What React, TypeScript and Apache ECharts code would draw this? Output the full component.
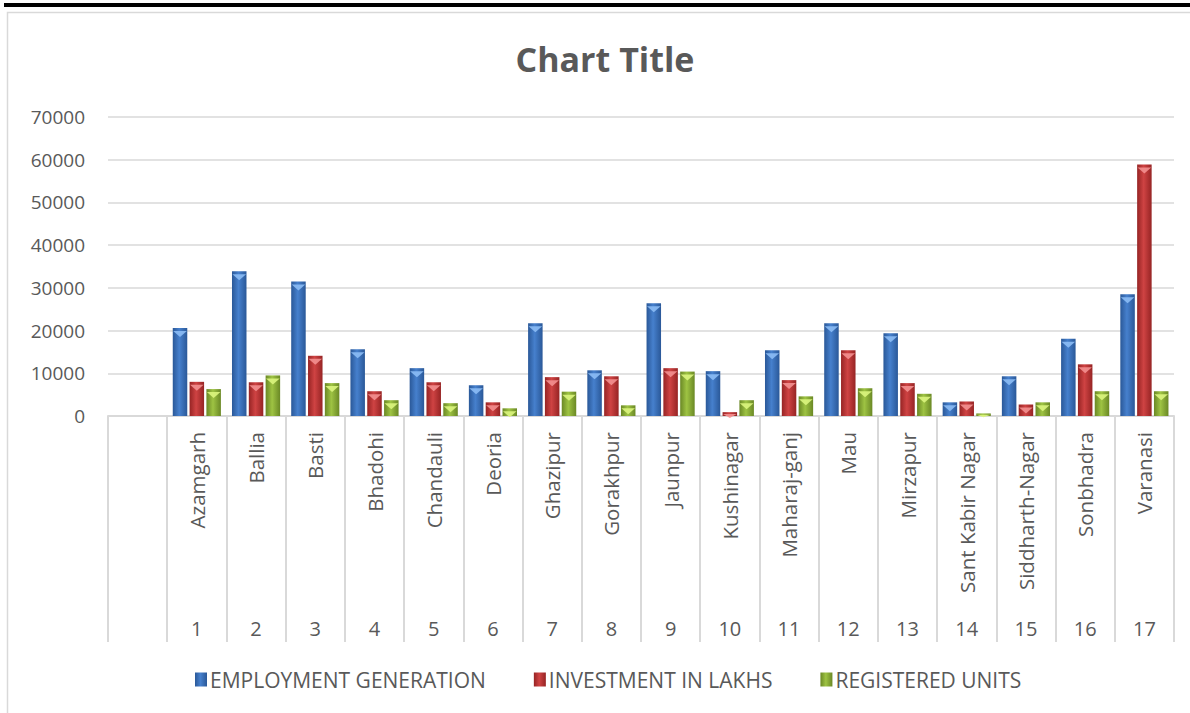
import React, { useEffect, useRef } from "react";
import * as echarts from "echarts";

const districts = [
  "Azamgarh", "Ballia", "Basti", "Bhadohi", "Chandauli", "Deoria", "Ghazipur",
  "Gorakhpur", "Jaunpur", "Kushinagar", "Maharaj-ganj", "Mau", "Mirzapur",
  "Sant Kabir Nagar", "Siddharth-Nagar", "Sonbhadra", "Varanasi",
];
const serialNumbers = [
  "1", "2", "3", "4", "5", "6", "7", "8", "9", "10", "11", "12", "13", "14", "15", "16", "17",
];
const employmentGeneration = [
  20600, 33900, 31500, 15600, 11200, 7200, 21700, 10700, 26400, 10500, 15400,
  21700, 19400, 3200, 9300, 18100, 28500,
];
const investmentInLakhs = [
  8000, 7900, 14100, 5800, 7900, 3200, 9100, 9300, 11200, 900, 8400, 15400,
  7700, 3400, 2700, 12100, 58900,
];
const registeredUnits = [
  6300, 9500, 7700, 3700, 3000, 1800, 5700, 2500, 10400, 3700, 4600, 6500,
  5200, 600, 3200, 5800, 5800,
];
const yTicks = { min: 0, max: 70000, interval: 10000 };

const seriesNames = ["EMPLOYMENT GENERATION", "INVESTMENT IN LAKHS", "REGISTERED UNITS"];
const palette = [
  { edge: "#2a5898", mid: "#4680cd", cap: "#8cbcf5" },
  { edge: "#962424", mid: "#cf4343", cap: "#f39090" },
  { edge: "#6a8825", mid: "#9ec343", cap: "#dcf57e" },
];

const FONT = "'Open Sans', 'DejaVu Sans', sans-serif";
const TEXT = "#595959";
const GRID = "#d9d9d9";

export default function App() {
  const ref = useRef<HTMLDivElement>(null);

  useEffect(() => {
    if (!ref.current) return;
    const chart = echarts.init(ref.current, undefined, { renderer: "svg" });
    const cats = ["", ...districts];
    const nums = ["", ...serialNumbers];
    const all = [employmentGeneration, investmentInLakhs, registeredUnits];
    const barW = 14.5;
    const gap = "16%";
    const plotH = 299;

    const bars = all.map((vals, i) => ({
      name: seriesNames[i],
      type: "bar",
      xAxisIndex: 0,
      barWidth: barW,
      barGap: gap,
      data: [null, ...vals],
      itemStyle: {
        color: new echarts.graphic.LinearGradient(0, 0, 1, 0, [
          { offset: 0, color: palette[i].edge },
          { offset: 0.45, color: palette[i].mid },
          { offset: 1, color: palette[i].edge },
        ]),
      },
      z: 2,
    }));
    const caps = all.map((vals, i) => ({
      name: "cap" + i,
      type: "pictorialBar",
      xAxisIndex: 0,
      barWidth: barW,
      barGap: gap,
      symbol: "triangle",
      symbolRotate: 180,
      symbolPosition: "end",
      data: [
        null,
        ...vals.map((v) => {
          const h = Math.min(6, (v / yTicks.max) * plotH);
          return { value: v, symbolSize: [barW - 1, h], symbolOffset: [0, h / 2] };
        }),
      ],
      itemStyle: { color: palette[i].cap, opacity: 0.9 },
      z: 3,
      silent: true,
    }));

    chart.setOption({
      animation: false,
      backgroundColor: "#ffffff",
      title: {
        text: "Chart Title",
        left: 600,
        textAlign: "center",
        top: 37,
        textStyle: { fontFamily: FONT, fontSize: 34, fontWeight: "bold", color: TEXT },
      },
      legend: {
        data: seriesNames,
        left: 190,
        top: 664,
        icon: "rect",
        itemWidth: 12,
        itemHeight: 14,
        itemGap: 48,
        textStyle: { fontFamily: FONT, fontSize: 21, color: TEXT, padding: [0, 0, 0, -2] },
      },
      grid: { left: 108, right: 16, top: 117, bottom: 297, containLabel: false },
      xAxis: [
        {
          type: "category",
          data: cats,
          boundaryGap: true,
          axisLine: { show: true, lineStyle: { color: GRID, width: 2 } },
          axisTick: {
            show: true,
            interval: 0,
            alignWithLabel: false,
            length: 226,
            lineStyle: { color: GRID, width: 2 },
          },
          axisLabel: {
            interval: 0,
            rotate: 90,
            margin: 16,
            fontFamily: FONT,
            fontSize: 20.5,
            color: TEXT,
          },
        },
        {
          type: "category",
          data: nums,
          position: "bottom",
          boundaryGap: true,
          axisLine: { show: false },
          axisTick: { show: false },
          axisLabel: {
            interval: 0,
            margin: 202,
            fontFamily: FONT,
            fontSize: 20,
            color: TEXT,
          },
        },
      ],
      yAxis: {
        type: "value",
        min: yTicks.min,
        max: yTicks.max,
        interval: yTicks.interval,
        axisLine: { show: false },
        axisTick: { show: false },
        axisLabel: {
          margin: 23,
          fontFamily: FONT,
          fontSize: 19,
          color: TEXT,
          formatter: (v: number) => String(v),
        },
        splitLine: { lineStyle: { color: GRID, width: 1.5 } },
      },
      graphic: [
        {
          type: "rect",
          shape: { x: 4, y: 3, width: 1186, height: 4 },
          style: { fill: "#000000" },
          silent: true,
        },
        {
          type: "rect",
          shape: { x: 7.5, y: 12.5, width: 1200, height: 720 },
          style: { fill: "none", stroke: GRID, lineWidth: 1.5 },
          silent: true,
          z: -1,
        },
      ],
      series: [...bars, ...caps],
    });
    return () => chart.dispose();
  }, []);

  return (
    <div
      ref={ref}
      style={{ position: "fixed", left: 0, top: 0, width: 1190, height: 713, background: "#fff" }}
    />
  );
}
